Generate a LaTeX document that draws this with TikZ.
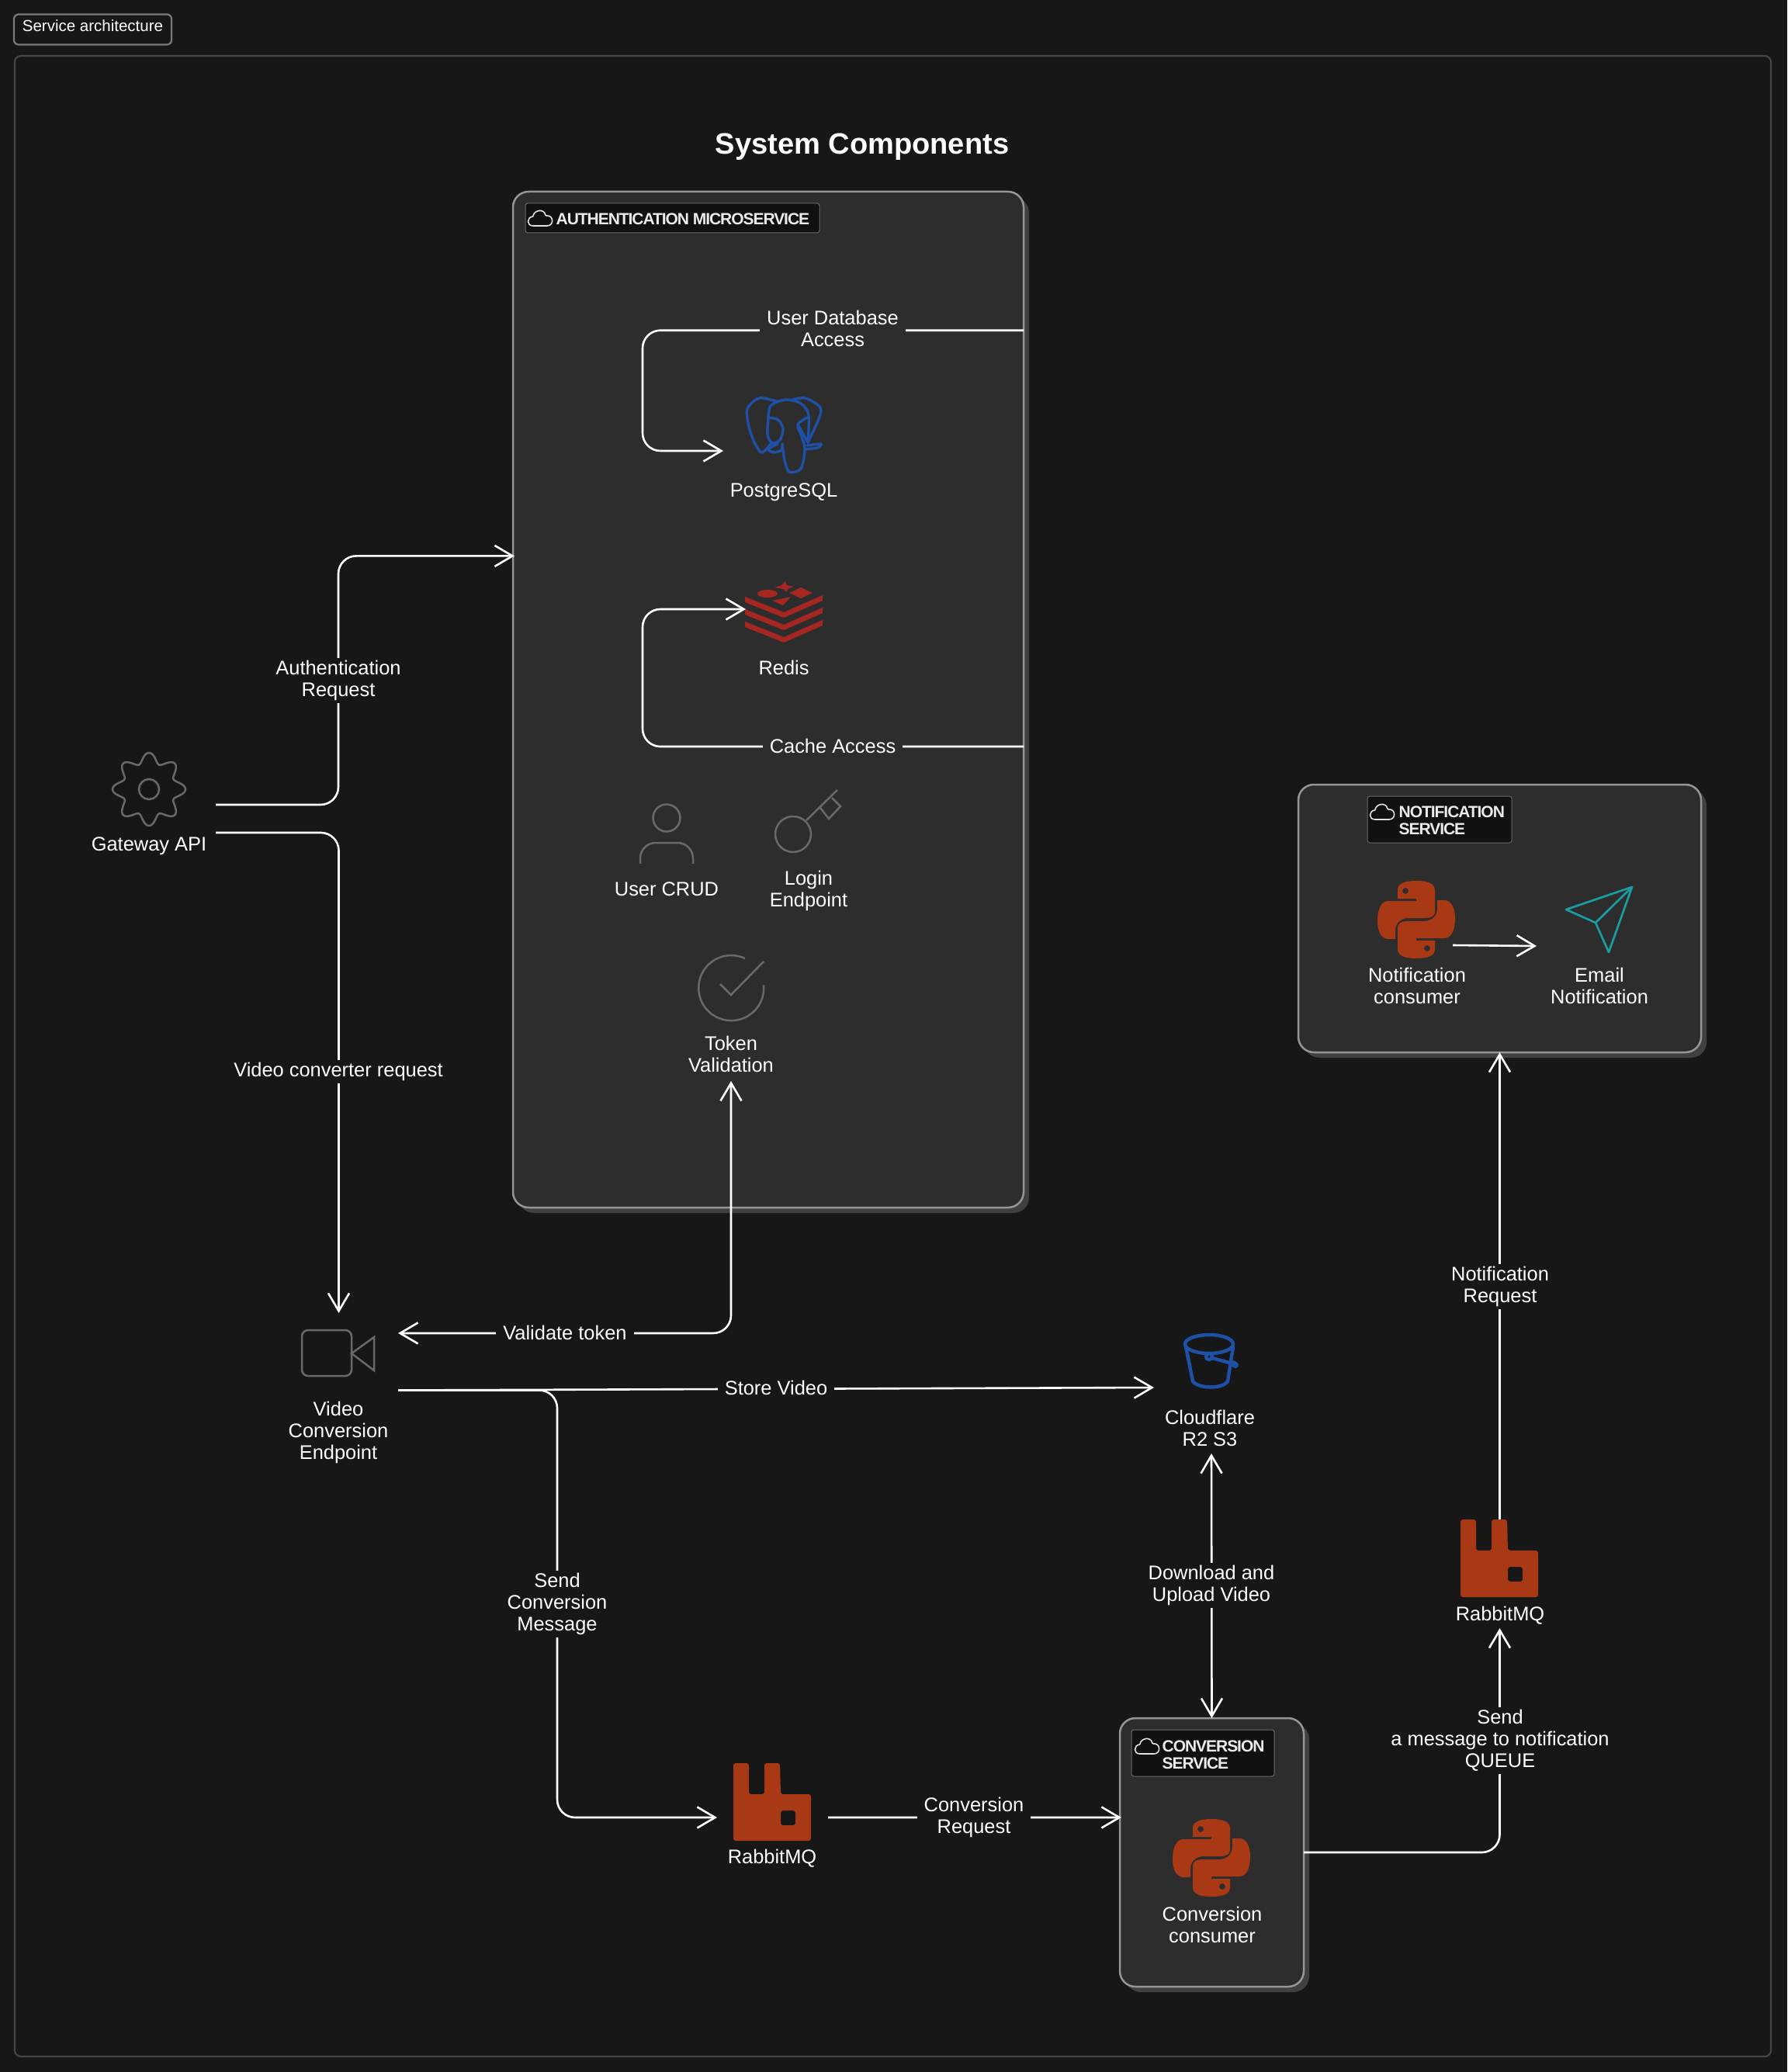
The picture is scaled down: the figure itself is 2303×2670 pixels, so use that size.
\documentclass[tikz,border=0pt]{standalone}
\usepackage{fontspec}
\setmainfont{Liberation Sans}
\newfontfamily\tagfamily[LetterSpace=-5]{Liberation Sans}
\usetikzlibrary{positioning,arrows.meta,fit,calc,shadows}
\definecolor{pagebg}   {RGB}{ 23, 23, 23}
\definecolor{panel}    {RGB}{ 45, 45, 45}
\definecolor{panelside}{RGB}{ 64, 64, 64}
\definecolor{boxline}  {RGB}{150,150,150}
\definecolor{tagbg}    {RGB}{ 17, 17, 17}
\definecolor{icongrey} {RGB}{105,105,105}
\definecolor{pgblue}   {RGB}{ 30, 80,165}
\definecolor{redisred} {RGB}{166, 38, 34}
\definecolor{brickred} {RGB}{168, 57, 20}
\definecolor{mailteal} {RGB}{ 26,156,160}
\newcommand\captionsize{\fontsize{7.23}{7.97}\selectfont}
\newcommand\tagsize{\fontsize{5.97}{6.26}\selectfont}

\begin{document}
\begin{tikzpicture}[
  x=.01cm,y=-.01cm,
  >={Straight Barb[length=.23cm,width=.27cm]},
  font=\captionsize,
  caption/.style={text=white,font=\captionsize,align=center,inner sep=0pt},
  linktext/.style={caption,inner xsep=.09cm,inner ysep=1pt},
  link/.style={draw=white,line width=.026cm,rounded corners=.23cm},
  spot/.style={inner sep=0pt,outer sep=0pt},
  service/.style={draw=boxline,fill=panel,line width=.025cm,rounded corners=.2cm,inner sep=0pt,outer sep=0pt,
    copy shadow={shadow xshift=.07cm,shadow yshift=-.07cm,fill=panelside,draw=none}},
  servicetag/.style={draw=icongrey,fill=tagbg,line width=.01cm,rounded corners=.03cm,inner sep=0pt},
  tagtext/.style={text=white!92!black,font={\tagsize\tagfamily\bfseries},align=left,anchor=west,inner sep=0pt},
  iconline/.style={draw=icongrey,line width=.025cm},
  cloud/.pic={
    \draw[white!88!black,line width=.016cm,rounded corners=.01cm] (-8,10) .. controls (-18,10) and (-17,-1) .. (-9,-2)
      .. controls (-8,-10) and (5,-13) .. (7,-3) .. controls (18,-4) and (18,10) .. (8,10) -- cycle;
  },
  pythonlogo/.pic={
    \foreach \ang in {0,180}
      \fill[brickred,even odd rule,rotate=\ang] (-24,-38) .. controls (-24,-47) and (-14,-50) .. (0,-50)
        .. controls (14,-50) and (24,-47) .. (24,-38) -- (24,-10) .. controls (24,-5) and (19,-2) .. (12,-2)
        -- (-10,-2) .. controls (-20,-2) and (-27,5) .. (-27,14) -- (-27,25) -- (-36,25)
        .. controls (-45,25) and (-50,15) .. (-50,2) .. controls (-50,-14) and (-45,-24) .. (-36,-24)
        -- (0,-24) -- (0,-27) -- (-24,-27) -- cycle (-14,-37) circle (4);
  },
  rabbitlogo/.pic={
    \fill[brickred,even odd rule,rounded corners=.03cm] (-50,-50) -- (-30,-50) -- (-30,-10) -- (-10,-10) -- (-10,-50)
      -- (10,-50) -- (11,-10) -- (50,-10) -- (50,50) -- (-50,50) -- cycle
      (11,11) -- (30,11) -- (30,30) -- (11,30) -- cycle;
  },
]

  \fill[pagebg] (0,0) rectangle (2303,2670);
  \useasboundingbox (0,0) rectangle (2303,2670);

  % Sheet frame and title
  \draw[white!27!black,line width=.022cm,rounded corners=.08cm] (19,72) rectangle (2282,2650);
  \node[caption,draw=white!48!black,line width=.022cm,rounded corners=.06cm,minimum width=2.03cm,minimum height=.39cm,
        text depth=.09cm,font=\fontsize{5.83}{7}\selectfont] (sheettag) at (119.5,38) {Service architecture};
  \node[caption,font=\fontsize{10.82}{12}\selectfont\bfseries] (title) at (1111,189) {System Components};

  % Service panels
  \node[service,fit={(661,247) (1319,1556)}] (auth) {};
  \node[service,fit={(1673,1011) (2192,1356)}] (notif) {};
  \node[service,fit={(1443,2214) (1680,2560)}] (conv) {};

  \node[servicetag,fit={(677,262) (1056,300)}] (authtag) {};
  \pic at (696,281) {cloud};
  \node[tagtext] (authtagtext) at (716,282) {AUTHENTICATION MICROSERVICE};

  \node[servicetag,fit={(1762,1026) (1948,1086)}] (notiftag) {};
  \pic at (1781,1046) {cloud};
  \node[tagtext] (notiftagtext) at (1802,1057) {NOTIFICATION\\SERVICE};

  \node[servicetag,fit={(1458,2229) (1642,2289)}] (convtag) {};
  \pic at (1478,2250) {cloud};
  \node[tagtext] (convtagtext) at (1497,2261) {CONVERSION\\SERVICE};

  % Places the connectors run to
  \node[spot,fit={(106,970) (278,1104)}] (gateway) {};
  \node[spot,fit={(360,1692) (513,1891)}] (video) {};
  \node[spot,fit={(880,1230) (1004,1393)}] (token) {};
  \node[spot,fit={(932,511) (1060,651)}] (postgres) {};
  \node[spot,fit={(961,750) (1060,820)}] (redis) {};
  \node[spot,fit={(1487,1703) (1635,1873)}] (bucket) {};
  \node[spot,fit={(924,2272) (1067,2412)}] (rabbitconv) {};
  \node[spot,fit={(1881,1958) (1984,2098)}] (rabbitnotif) {};
  \node[spot,fit={(1773,1134) (1872,1302)}] (consumer) {};
  \node[spot,fit={(1980,1143) (2110,1295)}] (email) {};

  % Gateway icon
  \draw[iconline] plot[domain=0:360,samples=145,smooth] ({192+(40.5+6.5*cos(8*\x-90*8))*cos(\x)},{1017+(40.5+6.5*cos(8*\x-90*8))*sin(\x)}) -- cycle;
  \draw[iconline] (192,1017) circle (13);
  \node[caption] (gatewaytext) at (192,1090) {Gateway API};

  % Video icon
  \draw[iconline,rounded corners=.08cm] (389,1714) rectangle (453,1773);
  \draw[iconline] (453,1744) -- (482,1723) -- (482,1766) -- cycle;
  \node[caption] (videotext) at (436,1846) {Video\\Conversion\\Endpoint};

  % PostgreSQL icon
  \begin{scope}[shift={(1010,561)},line width=.034cm,draw=pgblue,line cap=round,line join=round]
    \draw plot[smooth] coordinates {(-10,-44) (-32,-48) (-47,-34) (-45,-11) (-37,11) (-28,22) (-15,9)};
    \draw plot[smooth] coordinates {(-20,-21) (-17,-38) (2,-46) (22,-41) (32,-26) (31,9)};
    \draw plot[smooth] coordinates {(12,-46) (28,-48) (47,-36) (45,-21) (31,9)};
    \draw plot[smooth] coordinates {(-20,-23) (-7,-20) (-1,-8) (-5,6) (-15,10) (-21,-1) (-20,-23)};
    \draw plot[smooth] coordinates {(-2,11) (1,32) (7,47) (22,43) (27,17) (22,-1) (18,-14) (30,-23)};
    \draw (18,-14) -- (31,9);
    \draw plot[smooth] coordinates {(-8,11) (-20,18) (-13,22) (-3,19) (-2,12)};
    \draw plot[smooth] coordinates {(30,13) (48,11) (43,16) (28,18)};
    \fill[pgblue] (-8,-19) circle (1.6) (25,-20) circle (1.6);
  \end{scope}
  \node[caption] (postgrestext) at (1010,634) {PostgreSQL};

  % Redis icon
  \begin{scope}[shift={(1010,790)}]
    \foreach \dy in {0,16,32}
      \fill[redisred] (-50,-21+\dy) -- (0,-1+\dy) -- (50,-23+\dy) -- (50,-16+\dy) -- (0,6+\dy) -- (-50,-14+\dy) -- cycle;
    \fill[redisred] (2,-41) -- (4,-36) -- (13,-34) -- (6,-32) -- (3,-27) -- (-1,-31) -- (-12,-33) -- (-3,-36) -- cycle;
    \fill[redisred] (-21,-25) ellipse (13 and 5);
    \fill[redisred] (22,-33) -- (37,-26) -- (22,-19) -- (7,-26) -- cycle;
    \fill[redisred] (-15,-16) -- (9,-21) -- (-1,-10) -- cycle;
  \end{scope}
  \node[caption] (redistext) at (1010,860) {Redis};

  % Auth endpoints
  \draw[iconline] (859,1054) circle (17.5);
  \draw[iconline,rounded corners=.2cm] (825,1113) -- (825,1086) -- (893,1086) -- (893,1113);
  \node[caption] (crudtext) at (859,1146) {User CRUD};

  \draw[iconline] (1022,1075) circle (23);
  \draw[iconline] (1039,1057) -- (1079,1018);
  \draw[iconline] (1057,1041) -- (1068,1055) -- (1083,1039) -- (1072,1028);
  \node[caption] (logintext) at (1042,1148) {Login\\Endpoint};

  \draw[iconline] (960,1235) arc[start angle=65,end angle=365,radius=.42cm];
  \draw[iconline] (928,1268) -- (942,1282) -- (984,1239);
  \node[caption] (tokentext) at (942,1358) {Token\\Validation};

  % Bucket icon
  \begin{scope}[line width=.045cm,draw=pgblue]
    \draw (1558,1732) ellipse (31 and 12);
    \draw (1528,1735) -- (1537,1780) .. controls (1545,1790) and (1575,1790) .. (1582,1780) -- (1589,1735);
    \draw (1558,1748) circle (4);
    \draw (1562,1750) -- (1588,1757);
    \draw[line width=.08cm,line cap=round] (1589,1757) -- (1592,1759);
  \end{scope}
  \node[caption] (buckettext) at (1559,1840) {Cloudflare\\R2 S3};

  % Queue icons
  \pic at (995,2322) {rabbitlogo};
  \node[caption] (rabbitconvtext) at (995,2395) {RabbitMQ};
  \pic at (1932,2008) {rabbitlogo};
  \node[caption] (rabbitnotiftext) at (1933,2082) {RabbitMQ};

  % Consumers
  \pic at (1825,1185) {pythonlogo};
  \node[caption] (consumertext) at (1826,1270) {Notification\\consumer};
  \pic at (1561,2394) {pythonlogo};
  \node[caption] (convertertext) at (1562,2480) {Conversion\\consumer};

  \draw[mailteal,line width=.027cm,line join=round] (2103,1143) -- (2018,1172) -- (2056,1189) -- (2073,1227) -- cycle (2056,1189) -- (2103,1143);
  \node[caption] (emailtext) at (2061,1270) {Email\\Notification};


  \draw[->,link] ([yshift=4.755cm]auth.east) -- ++(-491,0) |- (postgres.west);
  \node[linktext,fill=panel] (dblabel) at (1073,423) {User Database\\Access};

  \draw[->,link] ([yshift=-.605cm]auth.east) -- ++(-491,0) |- (redis.west);
  \node[linktext,fill=panel] (cachelabel) at (1073,961) {Cache Access};

  \draw[->,link] (gateway.east) -- ++(158,0) |- ([xshift=.02cm,yshift=1.85cm]auth.west);
  \node[linktext,fill=pagebg] (authlabel) at (436,877) {Authentication\\Request};

  \draw[->,link] ([yshift=-.36cm]gateway.east) -| (video.north);
  \node[linktext,fill=pagebg] (convreqlabel) at (436,1381) {Video converter request};

  \draw[<->,link] (token.south) |- ([yshift=.735cm]video.east);
  \node[linktext,fill=pagebg] (validatelabel) at (728,1717) {Validate token};

  \draw[->,link] (video.east) -- (bucket.west);
  \node[linktext,fill=pagebg] (storelabel) at (1000,1788) {Store Video};

  \draw[->,link] (video.east) -- ++(205,0) |- (rabbitconv.west);
  \node[linktext,fill=pagebg] (sendlabel) at (718,2067) {Send\\Conversion\\Message};

  \draw[->,link] (rabbitconv.east) -- ([xshift=.02cm,yshift=.45cm]conv.west);
  \node[linktext,fill=pagebg] (requestlabel) at (1255,2342) {Conversion\\Request};

  \draw[<->,link] (bucket.south) -- (conv.north);
  \node[linktext,fill=pagebg] (downloadlabel) at (1561,2043) {Download and\\Upload Video};

  \draw[->,link] (conv.east) -| (rabbitnotif.south);
  \node[linktext,fill=pagebg] (queuelabel) at (1933,2243) {Send\\a message to notification\\QUEUE};

  \draw[->,link] (rabbitnotif.north) -- (notif.south);
  \node[linktext,fill=pagebg] (notifylabel) at (1933,1658) {Notification\\Request};

  \draw[->,link] (consumer.east) -- (email.west);

\end{tikzpicture}
\end{document}
